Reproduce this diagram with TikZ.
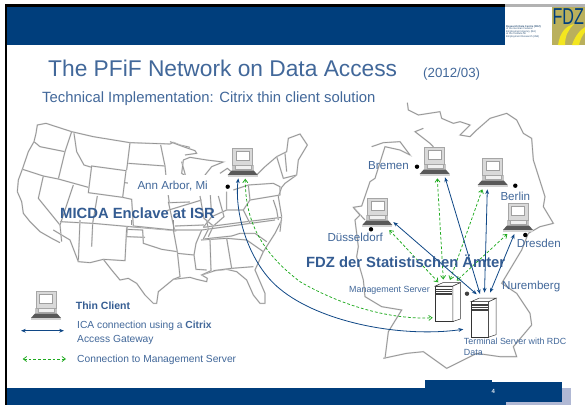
\documentclass[tikz,border=0pt]{standalone}
\usepackage{fontspec}
\setmainfont{Liberation Sans}
\usetikzlibrary{arrows.meta}
\definecolor{band}{RGB}{0,62,124}
\definecolor{linkblue}{RGB}{16,72,134}
\definecolor{linkgreen}{RGB}{30,170,30}
\definecolor{txt}{RGB}{66,104,154}
\definecolor{boldtxt}{RGB}{52,92,146}
\definecolor{lav}{RGB}{176,184,212}
\definecolor{olive}{RGB}{186,176,92}
\newcommand{\fs}[1]{\fontsize{#1}{#1}\selectfont}
\tikzset{
  mapline/.style={draw=gray!85,line width=.65pt,line join=round,preaction={draw=gray!35,line width=1.4pt}},
  bluelink/.style={draw=linkblue,line width=.8pt,{Stealth[length=4.8pt,width=3.8pt]}-{Stealth[length=4.8pt,width=3.8pt]}},
  greenlink/.style={draw=linkgreen,line width=.75pt,dash pattern=on 2.8pt off 2pt,{Straight Barb[length=3.4pt,width=5pt]}-{Straight Barb[length=3.4pt,width=5pt]}},
  lab/.style={inner sep=0,anchor=base west,text=txt,font=\fs{11.6}},
  small/.style={inner sep=0,anchor=base west,text=txt,font=\fs{8.9}},
  leg/.style={inner sep=0,anchor=base west,text=txt,font=\fs{10.25}},
  head/.style={inner sep=0,anchor=base west,text=boldtxt,font=\fs{14.8}\bfseries},
  dotmark/.style={circle,fill=black,inner sep=0,minimum size=4.4pt},
  pics/computer/.style={code={
    \fill[gray!45] (-11,17) rectangle (11,22.5);
    \fill[gray!12,draw=gray!70,line width=.4pt] (-8,17.5) rectangle (8,21);
    \fill[gray!30,draw=gray!70,line width=.5pt] (-10,0) rectangle (10,17);
    \fill[white,draw=gray!75,line width=.5pt] (-6.5,3) rectangle (6.5,12.5);
    \fill[gray!70!black] (-11,22.5) -- (11,22.5) -- (15,27) -- (-15,27) -- cycle;
    \fill[gray!35] (-15,27) rectangle (15,29);
  }},
  pics/server/.style={code={
    \fill[white,draw=black!80,line width=.5pt] (0,0) rectangle (17.5,35.5);
    \fill[white,draw=black!80,line width=.5pt] (17.5,0) -- (25,-3.5) -- (25,33) -- (17.5,35.5) -- cycle;
    \fill[white,draw=black!80,line width=.5pt] (0,0) -- (8,-3.5) -- (25,-3.5) -- (17.5,0) -- cycle;
    \fill[black!75] (1,2.5) rectangle (16.5,4);
    \fill[black!75] (1,5.2) rectangle (16.5,6.2);
    \fill[black!75] (1,7.4) rectangle (16.5,9.4);
  }}
}
\begin{document}
\begin{tikzpicture}[x=1pt,y=-1pt]
\useasboundingbox (0,0) rectangle (585,405);
\fill[white] (0,0) rectangle (585,405);
% frame and bands
\fill[black] (5,4) rectangle (585,7);
\fill[black] (5,4) rectangle (7.3,405);
\fill[gray!60] (505,4) rectangle (585,7);
\fill[band] (7.3,7) rectangle (505,45);
\fill[white] (505,7) rectangle (552,45);
\fill[olive] (552,7) rectangle (585,45);
\begin{scope}
\clip (552,7) rectangle (585,45);
\fill[yellow!80!olive] (558,45) .. controls (560,32) and (566,26) .. (574,24) .. controls (568,30) and (565,36) .. (565,45) -- cycle;
\fill[yellow!80!olive] (572,45) .. controls (575,36) and (580,30) .. (585,27) -- (585,32) .. controls (582,36) and (580,40) .. (579,45) -- cycle;
\end{scope}
\node[inner sep=0,anchor=base west,text=band,font=\fs{23},xscale=.7] (fdzmark) at (552.5,24) {FDZ};
\node[inner sep=0,anchor=north west,text=band!60!gray,font=\fs{2.6},align=left] (logotext) at (506,25) {\textbf{Research Data Centre (FDZ)}\\of the German Federal\\Employment Agency (BA)\\at the Institute for\\Employment Research (IAB)};
\fill[lav] (506,388) rectangle (571,405);
\fill[band] (7.3,388) rectangle (506,405);
\fill[band] (425,380) rectangle (492,388);
\fill[band] (492,382) rectangle (562,402);
\fill[band] (425,388) rectangle (506,402);
\node[inner sep=0,text=white!85!band,font=\fs{6}\bfseries] (pageno) at (493.3,391) {4};
% US map, west
\begin{scope}[shift={(10,110)},scale=1/3]
\draw[mapline] (108,40) -- (185,65) -- (250,80) -- (360,98) -- (480,102) -- (490,97) -- (510,105) -- (540,112);
\draw[mapline] (108,40) -- (82,45) -- (78,70) -- (72,95) -- (55,125) -- (38,175) -- (25,210) -- (22,245) -- (35,275) -- (40,310) -- (60,335) -- (90,365) -- (125,385) -- (150,398);
\draw[mapline] (72,95) -- (90,110) -- (165,125);
\draw[mapline] (185,65) -- (165,125) -- (145,207);
\draw[mapline] (38,178) -- (100,198) -- (145,207) -- (235,232);
\draw[mapline] (192,70) -- (200,125) -- (222,165) -- (245,172);
\draw[mapline] (245,168) -- (348,182) -- (338,262) -- (235,248) -- cycle;
\draw[mapline] (360,98) -- (350,180);
\draw[mapline] (355,160) -- (465,168);
\draw[mapline] (452,105) -- (465,168) -- (470,220) -- (478,280);
\draw[mapline] (345,218) -- (360,220);
\draw[mapline] (100,198) -- (85,265) -- (150,345) -- (155,395);
\draw[mapline] (190,225) -- (150,345);
\draw[mapline] (262,258) -- (248,340) -- (245,410);
\draw[mapline] (150,335) -- (248,340) -- (360,350) -- (500,362);
\draw[mapline] (338,262) -- (365,268) -- (370,350);
\draw[mapline] (478,278) -- (540,276);
\draw[mapline] (352,350) -- (350,380) -- (405,382);
\end{scope}
% US map, centre
\begin{scope}[shift={(0,90)},scale=1/3]
\draw[mapline] (505,335) -- (520,405) -- (525,425);
\draw[mapline] (500,362) -- (605,330);
\draw[mapline] (600,318) -- (612,385) -- (640,408) -- (625,440);
\draw[mapline] (655,318) -- (672,380) -- (640,408);
\draw[mapline] (525,408) -- (612,405);
\draw[mapline] (545,215) -- (558,262);
\end{scope}
% US map, south
\begin{scope}[shift={(90,220)},scale=1/3]
\draw[mapline] (-30,0) -- (-35,125) -- (0,128) -- (40,118) -- (65,150) -- (90,180) -- (115,175) -- (140,190) -- (165,225) -- (190,250) -- (200,250) -- (205,215) -- (250,178) -- (300,172) -- (320,178) -- (350,185) -- (352,175) -- (335,165) -- (375,152) -- (410,148) -- (440,155) -- (470,180) -- (490,225) -- (510,250) -- (525,250) -- (525,220) -- (495,150) -- (520,95) -- (555,40) -- (570,10) -- (575,0);
\draw[mapline] (-110,30) -- (-60,60) -- (-35,125);
\draw[mapline] (40,118) -- (105,122) -- (110,22);
\draw[mapline] (130,18) -- (250,30) -- (335,30) -- (445,15) -- (555,0);
\draw[mapline] (110,28) -- (158,30) -- (160,70) -- (215,88) -- (262,95) -- (270,170) -- (250,178);
\draw[mapline] (250,30) -- (262,95);
\draw[mapline] (335,30) -- (318,70) -- (312,105) -- (262,100);
\draw[mapline] (312,105) -- (318,148) -- (350,150);
\draw[mapline] (333,60) -- (360,58) -- (363,152) -- (335,165);
\draw[mapline] (362,58) -- (410,55) -- (425,145) -- (370,152);
\draw[mapline] (410,55) -- (470,60) -- (520,95);
\draw[mapline] (425,145) -- (490,140);
\draw[mapline] (340,57) -- (425,48) -- (450,40) -- (495,40) -- (530,65);
\draw[mapline] (340,57) -- (355,28) -- (350,0);
\draw[mapline] (125,0) -- (125,15);
\draw[mapline] (250,0) -- (250,30);
\end{scope}
% US map, east
\begin{scope}[shift={(170,110)},scale=1/3]
\draw[mapline] (0,95) -- (40,110) -- (75,122) -- (80,130) -- (45,135);
\draw[mapline] (40,150) -- (60,142) -- (110,150) -- (160,156) -- (125,170) -- (105,195);
\draw[mapline] (40,150) -- (35,190) -- (60,205);
\draw[mapline] (60,205) -- (135,210);
\draw[mapline] (150,190) -- (172,175) -- (190,190);
\draw[mapline] (170,245) -- (170,300) -- (220,300) -- (240,270) -- (235,225) -- (190,240);
\draw[mapline] (235,225) -- (310,220) -- (330,230) -- (330,255) -- (240,270);
\draw[mapline] (285,170) -- (320,140) -- (350,125) -- (355,85) -- (390,72) -- (412,105) -- (385,150) -- (380,195) -- (345,220) -- (335,232) -- (325,260) -- (335,320) -- (330,365);
\draw[mapline] (255,200) -- (285,170);
\draw[mapline] (320,140) -- (340,205) -- (380,195);
\draw[mapline] (345,130) -- (350,185);
\draw[mapline] (100,352) -- (230,335) -- (335,322);
\draw[mapline] (120,240) -- (125,320) -- (100,352);
\draw[mapline] (125,320) -- (170,300);
\draw[mapline] (220,300) -- (240,340);
\draw[mapline] (310,270) -- (320,300) -- (325,330);
\end{scope}
% Germany
\begin{scope}[shift={(320,100)},scale=1/3]
\draw[mapline] (262,8) -- (265,30) -- (295,45) -- (360,35) -- (365,55) -- (400,70) -- (420,65) -- (450,75) -- (420,105) -- (450,110) -- (470,90) -- (510,55) -- (560,40) -- (590,60) -- (610,100) -- (635,115) -- (640,180) -- (675,290) -- (670,320) -- (700,370) -- (660,380) -- (625,400) -- (605,450);
\draw[mapline] (310,85) -- (285,95) -- (330,130) -- (340,140);
\draw[mapline] (155,140) -- (190,128) -- (240,125) -- (270,165) -- (240,150) -- (195,140) -- (165,235) -- (150,245) -- (125,318) -- (100,322) -- (135,360);
\end{scope}
\begin{scope}[shift={(340,200)},scale=1/3]
\draw[mapline] (42,25) -- (60,45) -- (45,60) -- (55,140) -- (50,170) -- (70,240) -- (75,290) -- (125,320) -- (185,330) -- (145,395) -- (135,475);
\end{scope}
\begin{scope}[shift={(320,250)},scale=1/3]
\draw[mapline] (605,0) -- (545,100) -- (590,130) -- (630,190) -- (635,225) -- (580,290) -- (590,320) -- (540,320) -- (470,310) -- (380,355) -- (310,305) -- (260,310) -- (190,325);
\end{scope}
% labels under the links
\fill[white] (128,175) rectangle (218,195);
\node[inner sep=0,anchor=base west,text=txt,font=\fs{22.75}] (title) at (48,76) {The PFiF Network on Data Access};
\node[inner sep=0,anchor=base west,text=txt,font=\fs{13.3}] (date) at (423,77) {(2012/03)};
\node[inner sep=0,anchor=base west,text=txt,font=\fs{14.85}] (subtitle) at (42,102.7) {Technical Implementation: Citrix thin client solution};
\node[lab] (annlabel) at (137.3,189.3) {Ann Arbor, Mi};
\node[lab] (bremenlabel) at (368,169) {Bremen};
\node[lab] (berlinlabel) at (500.3,200) {Berlin};
\node[lab] (duslabel) at (327.3,241.7) {Düsseldorf};
\node[lab] (dreslabel) at (516.7,247) {Dresden};
\node[lab] (nurlabel) at (502,289.3) {Nuremberg};
\node[small] (mgmtlabel) at (349,292.3) {Management Server};
\node[small] (termlabel) at (463.7,344) {Terminal Server with RDC};
\node[small] (termlabelb) at (463.7,355) {Data};
% dots
\node[dotmark] (dotann) at (227.7,186.7) {};
\node[dotmark] (dotbremen) at (417,166.7) {};
\node[dotmark] (dotberlin) at (515.3,185.7) {};
\node[dotmark] (dotdus) at (371,229.3) {};
\node[dotmark] (dotdres) at (525.3,235) {};
\node[dotmark,fill=black!75] (dotnur) at (467,293.7) {};
% machines
\pic at (242.7,148) {computer};
\pic at (434.7,147) {computer};
\pic at (492.7,158) {computer};
\pic at (377.3,198) {computer};
\pic at (518,203) {computer};
\pic at (46,291) {computer};
\pic at (435.3,286) {server};
\pic at (471,301.7) {server};
% link ends
\coordinate (annB) at (238.3,178.3);
\coordinate (annG) at (245.3,178.7);
\coordinate (bremenB) at (445,177.3);
\coordinate (bremenG) at (437.3,178.3);
\coordinate (berlinB) at (487.3,189.3);
\coordinate (berlinG) at (482.3,189.3);
\coordinate (dusB) at (393.3,222);
\coordinate (dusG) at (389.3,230);
\coordinate (dresB) at (514.3,234);
\coordinate (dresG) at (507.3,234);
\coordinate (termA) at (476.7,294.3);
\coordinate (termB) at (480,294);
\coordinate (termC) at (484.5,292.7);
\coordinate (termD) at (490,292.7);
\coordinate (termE) at (463.3,329.3);
\coordinate (mgmtA) at (438.3,282.3);
\coordinate (mgmtB) at (443.3,279.5);
\coordinate (mgmtC) at (450,280);
\coordinate (mgmtD) at (456.7,280.7);
\coordinate (mgmtE) at (432.7,317.7);
\draw[greenlink] (dusG) -- (mgmtA);
\draw[greenlink] (bremenG) -- (mgmtB);
\draw[greenlink] (berlinG) -- (mgmtC);
\draw[greenlink] (dresG) -- (mgmtD);
\draw[bluelink] (dusB) -- (termA);
\draw[bluelink] (bremenB) -- (termB);
\draw[bluelink] (berlinB) -- (termC);
\draw[bluelink] (dresB) -- (termD);
\draw[greenlink] (annG) .. controls (245,225) and (265,255) .. (300,281.7) .. controls (340,305) and (390,320) .. (mgmtE);
\draw[bluelink] (annB) .. controls (234,215) and (250,265) .. (280,289) .. controls (320,322) and (400,338) .. (termE);
% headings over the links
\node[head] (micda) at (60,218) {MICDA Enclave at ISR};
\node[head] (fdzhead) at (306,267) {FDZ der Statistischen Ämter};
% legend
\node[leg,font=\fs{10.5}\bfseries,text=boldtxt] (legthin) at (75.7,309) {Thin Client};
\node[leg] (legica) at (77,328.7) {ICA connection using a \textbf{Citrix}};
\node[leg] (legicab) at (77,342) {Access Gateway};
\node[leg] (legcon) at (77,362) {Connection to Management Server};
\coordinate (legBa) at (21,330.7);
\coordinate (legBb) at (64,330.7);
\coordinate (legGa) at (22.7,359);
\coordinate (legGb) at (66,359);
\draw[bluelink] (legBa) -- (legBb);
\draw[greenlink] (legGa) -- (legGb);
\end{tikzpicture}
\end{document}
